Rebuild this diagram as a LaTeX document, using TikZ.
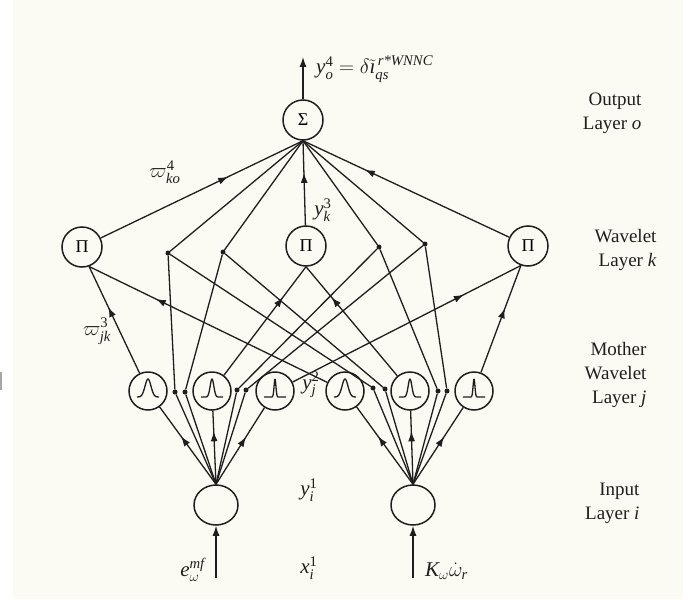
\documentclass[tikz,border=0pt]{standalone}
\usepackage{amsmath}
\usepackage{fontspec}
\setmainfont{Liberation Serif}
\usetikzlibrary{arrows.meta,decorations.markings,shapes.geometric}

\definecolor{paper}{HTML}{FBFBF3}
\definecolor{ink}{HTML}{1E1E1E}

% italic Latin letters taken from the text face
\newcommand{\vi}[1]{\textit{#1}}

\tikzset{
  neuron/.style={circle, draw=ink, line width=1.5pt, inner sep=0pt,
    minimum size=40pt, font=\fontsize{18}{20}\selectfont},
  mother/.style={circle, draw=ink, line width=1.5pt, inner sep=0pt, minimum size=38pt},
  inputnode/.style={ellipse, draw=ink, line width=1.5pt, inner sep=0pt,
    minimum width=44pt, minimum height=40pt},
  junction/.style={circle, fill=ink, inner sep=0pt, minimum size=5pt},
  wire/.style={draw=ink, line width=1.3pt},
  flow/.style={postaction={decorate}, decoration={markings,
    mark=at position #1 with {\arrow{Latex[length=10pt,width=7pt]}}}},
  lbl/.style={font=\fontsize{21}{26}\selectfont, text=ink, inner sep=1pt},
  layerlbl/.style={align=right, font=\fontsize{19}{24}\selectfont, text=ink},
  pics/bell/.style={code={
    \draw[ink, line width=1.3pt, line join=round]
      plot[domain=-11:11, samples=80, smooth]
      (\x, {6 - 18*exp(max(-9, -(\x/#1)^2))});
  }}
}

\begin{document}
\begin{tikzpicture}[x=1pt, y=-1pt]
  % paper
  \useasboundingbox (0,0) rectangle (692,599);
  \fill[white] (0,0) rectangle (692,599);
  \fill[paper] (13,0) rectangle (683,599);
  \fill[gray!70] (0,372) rectangle (1.5,390);

  % output layer
  \node[neuron] (S) at (303,120) {Σ};
  \coordinate (otip) at (303,57);

  % wavelet layer
  \node[neuron] (PL) at (82,247) {Π};
  \node[neuron] (PM) at (306,246) {Π};
  \node[neuron] (PR) at (528,246) {Π};
  \node[junction] (W1) at (168,253) {};
  \node[junction] (W2) at (223,252) {};
  \node[junction] (W3) at (379,247) {};
  \node[junction] (W4) at (425,244) {};

  % mother wavelet layer
  \node[mother] (M1) at (148,391) {};
  \node[mother] (M2) at (212,391) {};
  \node[mother] (M3) at (275,391) {};
  \node[mother] (M4) at (345,391) {};
  \node[mother] (M5) at (410,391) {};
  \node[mother] (M6) at (474,391) {};
  \pic at (M1) {bell=4.2};
  \pic at (M2) {bell=2.6};
  \pic at (M3) {bell=1.3};
  \pic at (M4) {bell=4.2};
  \pic at (M5) {bell=2.6};
  \pic at (M6) {bell=1.3};
  \node[junction] (D1) at (175,392) {};
  \node[junction] (D2) at (185,392) {};
  \node[junction] (D3) at (237,390) {};
  \node[junction] (D4) at (246,390) {};
  \node[junction] (D5) at (373,388) {};
  \node[junction] (D6) at (385,389) {};
  \node[junction] (D7) at (438,391) {};
  \node[junction] (D8) at (447,391) {};

  % input layer
  \node[inputnode] (IL) at (216,505) {};
  \node[inputnode] (IR) at (413,505) {};
  \coordinate (inL) at (216,578);
  \coordinate (inR) at (413,578);

  % output
  \draw[wire, -{Latex[length=10pt,width=7pt]}] (S) -- (otip);

  % wavelet layer -> output
  \draw[wire, flow=0.63] (PL) -- (S.south);
  \draw[wire] (W1) -- (S.south);
  \draw[wire] (W2) -- (S.south);
  \draw[wire, flow=0.62] (PM) -- (S.south);
  \draw[wire] (W3) -- (S.south);
  \draw[wire] (W4) -- (S.south);
  \draw[wire, flow=0.7] (PR) -- (S.south);

  % mother wavelet layer -> wavelet layer
  \draw[wire, flow=0.62] (M1) -- (PL.-70);
  \draw[wire, flow=0.72] (M4) -- (PL.-70);
  \draw[wire, flow=0.72] (M2) -- (PM.south);
  \draw[wire, flow=0.72] (M5) -- (PM.south);
  \draw[wire, flow=0.75] (M3) -- (PR.-110);
  \draw[wire, flow=0.6] (M6) -- (PR.-110);
  \draw[wire] (D1) -- (W1);
  \draw[wire] (D5) -- (W1);
  \draw[wire] (D2) -- (W2);
  \draw[wire] (D6) -- (W2);
  \draw[wire] (D3) -- (W3);
  \draw[wire] (D7) -- (W3);
  \draw[wire] (D4) -- (W4);
  \draw[wire] (D8) -- (W4);

  % input layer -> mother wavelet layer
  \draw[wire, flow=0.62] (IL.north) -- (M1);
  \draw[wire, flow=0.72] (IL.north) -- (M2);
  \draw[wire, flow=0.62] (IL.north) -- (M3);
  \draw[wire] (IL.north) -- (D1);
  \draw[wire] (IL.north) -- (D2);
  \draw[wire] (IL.north) -- (D3);
  \draw[wire] (IL.north) -- (D4);
  \draw[wire, flow=0.62] (IR.north) -- (M4);
  \draw[wire, flow=0.72] (IR.north) -- (M5);
  \draw[wire, flow=0.62] (IR.north) -- (M6);
  \draw[wire] (IR.north) -- (D5);
  \draw[wire] (IR.north) -- (D6);
  \draw[wire] (IR.north) -- (D7);
  \draw[wire] (IR.north) -- (D8);

  % inputs
  \draw[wire, -{Latex[length=10pt,width=7pt]}] (inL) -- (IL);
  \draw[wire, -{Latex[length=10pt,width=7pt]}] (inR) -- (IR);

  % signal labels
  \node[lbl, anchor=base west] (outlbl) at (315,74)
    {$\vi{y}_{\vi{o}}^{\text{4}}=\delta\tilde{\vi{\i}}_{\vi{qs}}^{\,\vi{r*WNNC}}$};
  \node[lbl] (wko) at (165,172) {$\varpi_{\vi{ko}}^{\text{4}}$};
  \node[lbl] (yk) at (323,210) {$\vi{y}_{\vi{k}}^{\text{3}}$};
  \node[lbl] (wjk) at (97,331) {$\varpi_{\vi{jk}}^{\text{3}}$};
  \node[lbl] (yj) at (311,385) {$\vi{y}_{\vi{j}}^{\text{2}}$};
  \node[lbl] (yi) at (309,490) {$\vi{y}_{\vi{i}}^{\text{1}}$};
  \node[lbl] (xi) at (309,568) {$\vi{x}_{\vi{i}}^{\text{1}}$};
  \node[lbl, anchor=base east] (ein) at (206,576) {$\vi{e}_{\omega}^{\vi{mf}}$};
  \node[lbl, anchor=base west] (kin) at (424,576) {$\vi{K}_{\omega}\dot{\omega}_{\vi{r}}$};

  % layer names
  \node[layerlbl, anchor=east] (Lo) at (645,113) {Output\\Layer \textit{o}};
  \node[layerlbl, anchor=east] (Lk) at (660,250) {Wavelet\\Layer \textit{k}};
  \node[layerlbl, anchor=east] (Lj) at (650,375) {Mother\\Wavelet\\Layer \textit{j}};
  \node[layerlbl, anchor=east] (Li) at (643,503) {Input\\Layer \textit{i}};
\end{tikzpicture}
\end{document}
